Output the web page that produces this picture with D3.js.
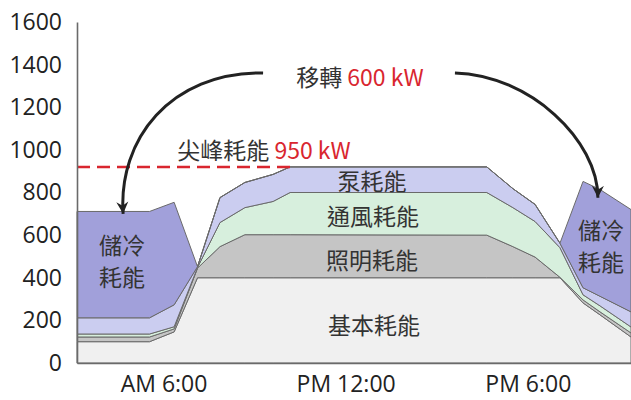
<!DOCTYPE html>
<html>
<head>
<meta charset="utf-8">
<script src="https://cdn.jsdelivr.net/npm/d3@7"></script>
<style>
  body { margin: 0; background: #fff; }
</style>
</head>
<body>
<div class="canvas"></div>
<script>
// hour of day for each breakpoint of the load profile
const hours       = [3.15, 5.54, 6.35, 7.12, 7.86, 8.68, 9.61, 10.17, 16.65, 17.51, 18.24, 19.06, 19.82, 20.38, 21.40];
// layer thickness in kW
const baseLoad    = [100, 100, 146, 400, 400, 400, 400, 400, 400, 400, 400, 400, 282, 226, 122];
const lighting    = [22, 22, 14, 45, 146, 202, 202, 202, 200, 146, 97, 2, 14, 14, 19];
const ventilation = [14, 14, 10, 3, 113, 127, 156, 198, 200, 183, 167, 139, 24, 28, 28];
const pump        = [76, 76, 103, 4, 117, 118, 127, 120, 120, 89, 80, 21, 33, 45, 71];
const storage     = [499, 499, 481, 0, 0, 0, 0, 0, 0, 0, 0, 0, 499, 501, 480];

const layerKeys   = ['base', 'lighting', 'ventilation', 'pump', 'storage'];
const layerFills  = ['#f0f0f0', '#c5c5c5', '#d7efdd', '#cbcdf0', '#a1a0da'];

const yTicks  = [0, 200, 400, 600, 800, 1000, 1200, 1400, 1600];
const xTicks  = [6, 12, 18];
const xLabels = ['AM 6:00', 'PM 12:00', 'PM 6:00'];

const peakLine = 920;   // drawn level of the peak
const peakEnd  = 10.17;

const rows = hours.map((h, i) => ({
  hour: h, base: baseLoad[i], lighting: lighting[i],
  ventilation: ventilation[i], pump: pump[i], storage: storage[i]
}));

const W = 631, H = 400;
const svg = d3.select('.canvas').append('svg')
  .attr('width', W)
  .attr('height', H)
  .style('font-family', "'Open Sans', 'Noto Sans CJK TC', sans-serif");

const x = d3.scaleLinear().domain([3.15, 21.4]).range([77, 631]);
const y = d3.scaleLinear().domain([0, 1600]).range([363, 22]);

const stacked = d3.stack().keys(layerKeys)(rows);

const area = d3.area()
  .x(d => x(d.data.hour))
  .y0(d => y(d[0]))
  .y1(d => y(d[1]));

const defs = svg.append('defs');

svg.append('g')
  .selectAll('path')
  .data(stacked)
  .join('path')
    .attr('d', area)
    .attr('fill', (d, i) => layerFills[i])
    .attr('stroke', '#6a6a6a')
    .attr('stroke-width', 1)
    .attr('stroke-linejoin', 'round');

// clip for the pump label, which is cut by the top of its band
defs.append('clipPath').attr('id', 'pumpClip')
  .append('path').attr('d', area(stacked[3]));

// peak dashed line
svg.append('line')
  .attr('x1', x(3.15)).attr('x2', x(peakEnd))
  .attr('y1', y(peakLine)).attr('y2', y(peakLine))
  .attr('stroke', '#d9262f')
  .attr('stroke-width', 2.5)
  .attr('stroke-dasharray', '13,7');

// axes
const yAxis = svg.append('g')
  .attr('transform', `translate(${x(3.15)},0)`)
  .call(d3.axisLeft(y).tickValues(yTicks).tickFormat(d3.format('d'))
    .tickSize(0).tickSizeOuter(0).tickPadding(15));
const xAxis = svg.append('g')
  .attr('transform', `translate(0,${y(0)})`)
  .call(d3.axisBottom(x).tickValues(xTicks).tickFormat((d, i) => xLabels[i])
    .tickSize(0).tickSizeOuter(0).tickPadding(13));

[yAxis, xAxis].forEach(g => {
  g.select('.domain').attr('stroke', '#6a6a6a').attr('stroke-width', 1.6);
  g.selectAll('text')
    .attr('fill', '#222')
    .style('font-size', '23px')
    .style('font-family', "'Open Sans', sans-serif");
});

// arrows
defs.append('marker')
  .attr('id', 'head')
  .attr('viewBox', '-12 -7 14 14')
  .attr('refX', 0).attr('refY', 0)
  .attr('markerWidth', 14).attr('markerHeight', 14)
  .attr('markerUnits', 'userSpaceOnUse')
  .attr('orient', 'auto')
  .append('path')
    .attr('d', 'M0,0 L-12,-6 L-8,0 L-12,6 Z')
    .attr('fill', '#222');

const arrows = [
  [[9.28, 1361], [6.21, 1366], [4.50, 1046], [4.67, 700]],
  [[15.6, 1361], [18.07, 1351], [20.31, 1046], [20.31, 775]]
];
arrows.forEach(p => {
  const path = d3.path();
  path.moveTo(x(p[0][0]), y(p[0][1]));
  path.bezierCurveTo(x(p[1][0]), y(p[1][1]), x(p[2][0]), y(p[2][1]), x(p[3][0]), y(p[3][1]));
  svg.append('path')
    .attr('d', path.toString())
    .attr('fill', 'none')
    .attr('stroke', '#222')
    .attr('stroke-width', 3)
    .attr('marker-end', 'url(#head)');
});

// labels
const cjk = "'Noto Sans CJK TC', 'Noto Sans', sans-serif";
function label(h, v, parts, clip) {
  const t = svg.append('text')
    .attr('x', x(h)).attr('y', y(v))
    .attr('text-anchor', 'middle')
    .attr('dominant-baseline', 'central')
    .style('font-size', '23px')
    .style('font-family', cjk);
  if (clip) t.attr('clip-path', 'url(#pumpClip)');
  parts.forEach(([s, c]) => t.append('tspan').attr('fill', c).text(s));
}
const dark = '#333', red = '#d9262f';
label(12.47, 1347, [['移轉 ', dark], ['600 kW', red]]);
label(9.31, 1004, [['尖峰耗能 ', dark], ['950 kW', red]]);
label(12.87, 860, [['泵耗能', dark]], true);
label(12.9, 695, [['通風耗能', dark]]);
label(12.87, 488, [['照明耗能', dark]]);
label(12.93, 183, [['基本耗能', dark]]);
label(4.63, 558, [['儲冷', dark]]);
label(4.63, 408, [['耗能', dark]]);
label(20.41, 629, [['儲冷', dark]]);
label(20.41, 479, [['耗能', dark]]);
</script>
</body>
</html>
